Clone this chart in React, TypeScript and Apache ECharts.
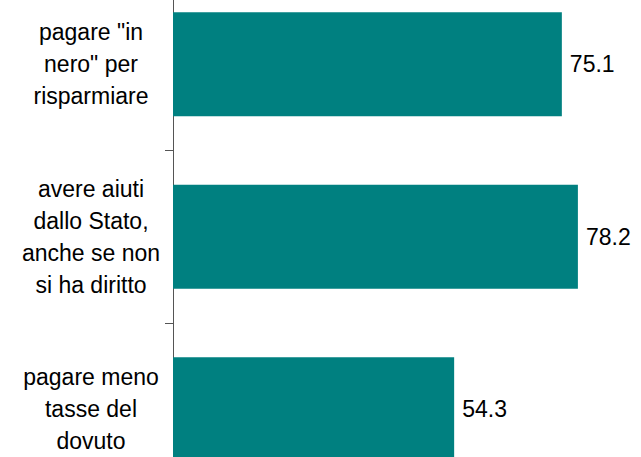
import React, { useEffect, useRef } from "react";
import * as echarts from "echarts";

const categories = [
  'pagare "in\nnero" per\nrisparmiare',
  "avere aiuti\ndallo Stato,\nanche se non\nsi ha diritto",
  "pagare meno\ntasse del\ndovuto",
];
const values = [75.1, 78.2, 54.3];

export default function App() {
  const ref = useRef<HTMLDivElement>(null);
  useEffect(() => {
    document.body.style.margin = "0";
    const chart = echarts.init(ref.current!, null, { renderer: "svg" });
    chart.setOption({
      animation: false,
      backgroundColor: "#ffffff",
      grid: {
        left: 173,
        top: -22,
        width: 466,
        height: 517.5,
        containLabel: false,
        outerBoundsMode: "none",
      },
      xAxis: {
        type: "value",
        min: 0,
        max: 90,
        show: false,
      },
      yAxis: {
        type: "category",
        inverse: true,
        data: categories,
        axisLine: { show: true, lineStyle: { color: "#555555", width: 1 } },
        axisTick: { show: true, length: 8, lineStyle: { color: "#555555", width: 1 } },
        axisLabel: {
          align: "center",
          margin: 82,
          color: "#000000",
          fontFamily: "'Liberation Sans', Arial, sans-serif",
          fontSize: 23,
          lineHeight: 32,
        },
        splitLine: { show: false },
      },
      series: [
        {
          type: "bar",
          data: values,
          barWidth: 104,
          itemStyle: { color: "#008080" },
          label: {
            show: true,
            position: "right",
            distance: 8,
            color: "#000000",
            fontFamily: "'Liberation Sans', Arial, sans-serif",
            fontSize: 23,
            formatter: (p: any) => p.value.toFixed(1),
          },
        },
      ],
    });
    return () => chart.dispose();
  }, []);
  return <div ref={ref} style={{ width: 641, height: 457 }} />;
}
